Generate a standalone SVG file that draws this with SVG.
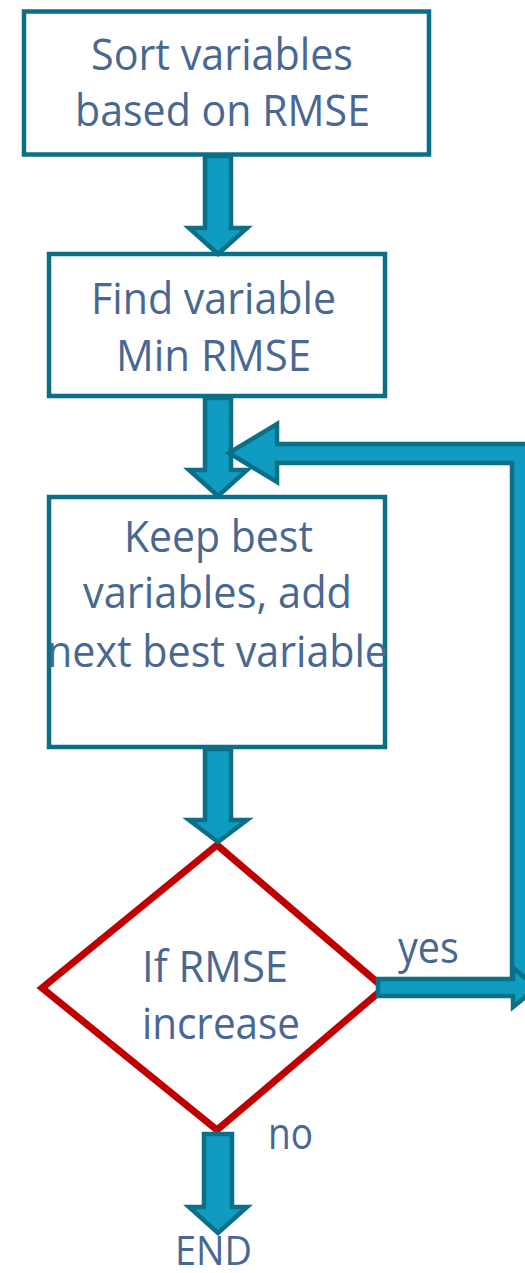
<svg xmlns="http://www.w3.org/2000/svg" width="525" height="1273" viewBox="0 0 525 1273">
  <style>
    .box { fill: #ffffff; stroke: #0b6f87; stroke-width: 4.5; }
    .dec { fill: #ffffff; stroke: #c00000; stroke-width: 7; stroke-linejoin: miter; }
    .arr { fill: #0f9cc0; stroke: #0b6f87; stroke-width: 4.5; stroke-linejoin: miter; }
    .t { font-family: "Open Sans", "Liberation Sans", sans-serif; font-size: 43px; fill: #486891; }
  </style>
  <rect width="525" height="1273" fill="#ffffff"/>

  <g id="n1">
    <rect class="box" x="24" y="11.5" width="405" height="143"/>
    <text class="t" x="91" y="70" textLength="262" lengthAdjust="spacingAndGlyphs">Sort variables</text>
    <text class="t" x="75" y="126" textLength="295" lengthAdjust="spacingAndGlyphs">based on RMSE</text>
  </g>

  <g id="n2">
    <rect class="box" x="49" y="254" width="336" height="142"/>
    <text class="t" x="91" y="314" textLength="245" lengthAdjust="spacingAndGlyphs">Find variable</text>
    <text class="t" x="116" y="371" textLength="195" lengthAdjust="spacingAndGlyphs">Min RMSE</text>
  </g>

  <g id="n3">
    <rect class="box" x="49" y="497" width="336" height="250"/>
    <text class="t" x="124" y="552" textLength="189" lengthAdjust="spacingAndGlyphs">Keep best</text>
    <text class="t" x="83" y="608" textLength="269" lengthAdjust="spacingAndGlyphs">variables, add</text>
    <text class="t" x="47" y="667" textLength="341" lengthAdjust="spacingAndGlyphs">next best variable</text>
  </g>

  <g id="n4">
    <polygon class="dec" points="217,845 384,988 217,1130 42,988"/>
    <text class="t" x="142" y="982" textLength="146" lengthAdjust="spacingAndGlyphs">If RMSE</text>
    <text class="t" x="142" y="1039" textLength="158" lengthAdjust="spacingAndGlyphs">increase</text>
  </g>

  <g id="connectors">
    <polygon class="arr" points="205,156 205,228 189,228 218,254 247,228 231,228 231,156"/>
    <polygon class="arr" points="205,398 205,470 189,470 218,496 247,470 231,470 231,398"/>
    <polygon class="arr" points="205,749 205,820 189,820 218,842 247,820 231,820 231,749"/>
    <polygon class="arr" points="204,1134 204,1207 189,1207 218,1233 247,1207 232,1207 232,1134"/>
    <polygon class="arr" points="512,988 512,463 277,463 277,482 229,453 277,424 277,444 530,444 530,988"/>
    <polygon class="arr" points="378,979 378,996 513,996 513,1007 537,987.5 513,968 513,979"/>
  </g>

  <g id="labels">
    <text class="t" x="398" y="963" textLength="61" lengthAdjust="spacingAndGlyphs">yes</text>
    <text class="t" x="268" y="1149" textLength="45" lengthAdjust="spacingAndGlyphs">no</text>
    <text class="t" x="175" y="1265" font-size="41" textLength="77" lengthAdjust="spacingAndGlyphs" style="font-size:41px">END</text>
  </g>
</svg>
